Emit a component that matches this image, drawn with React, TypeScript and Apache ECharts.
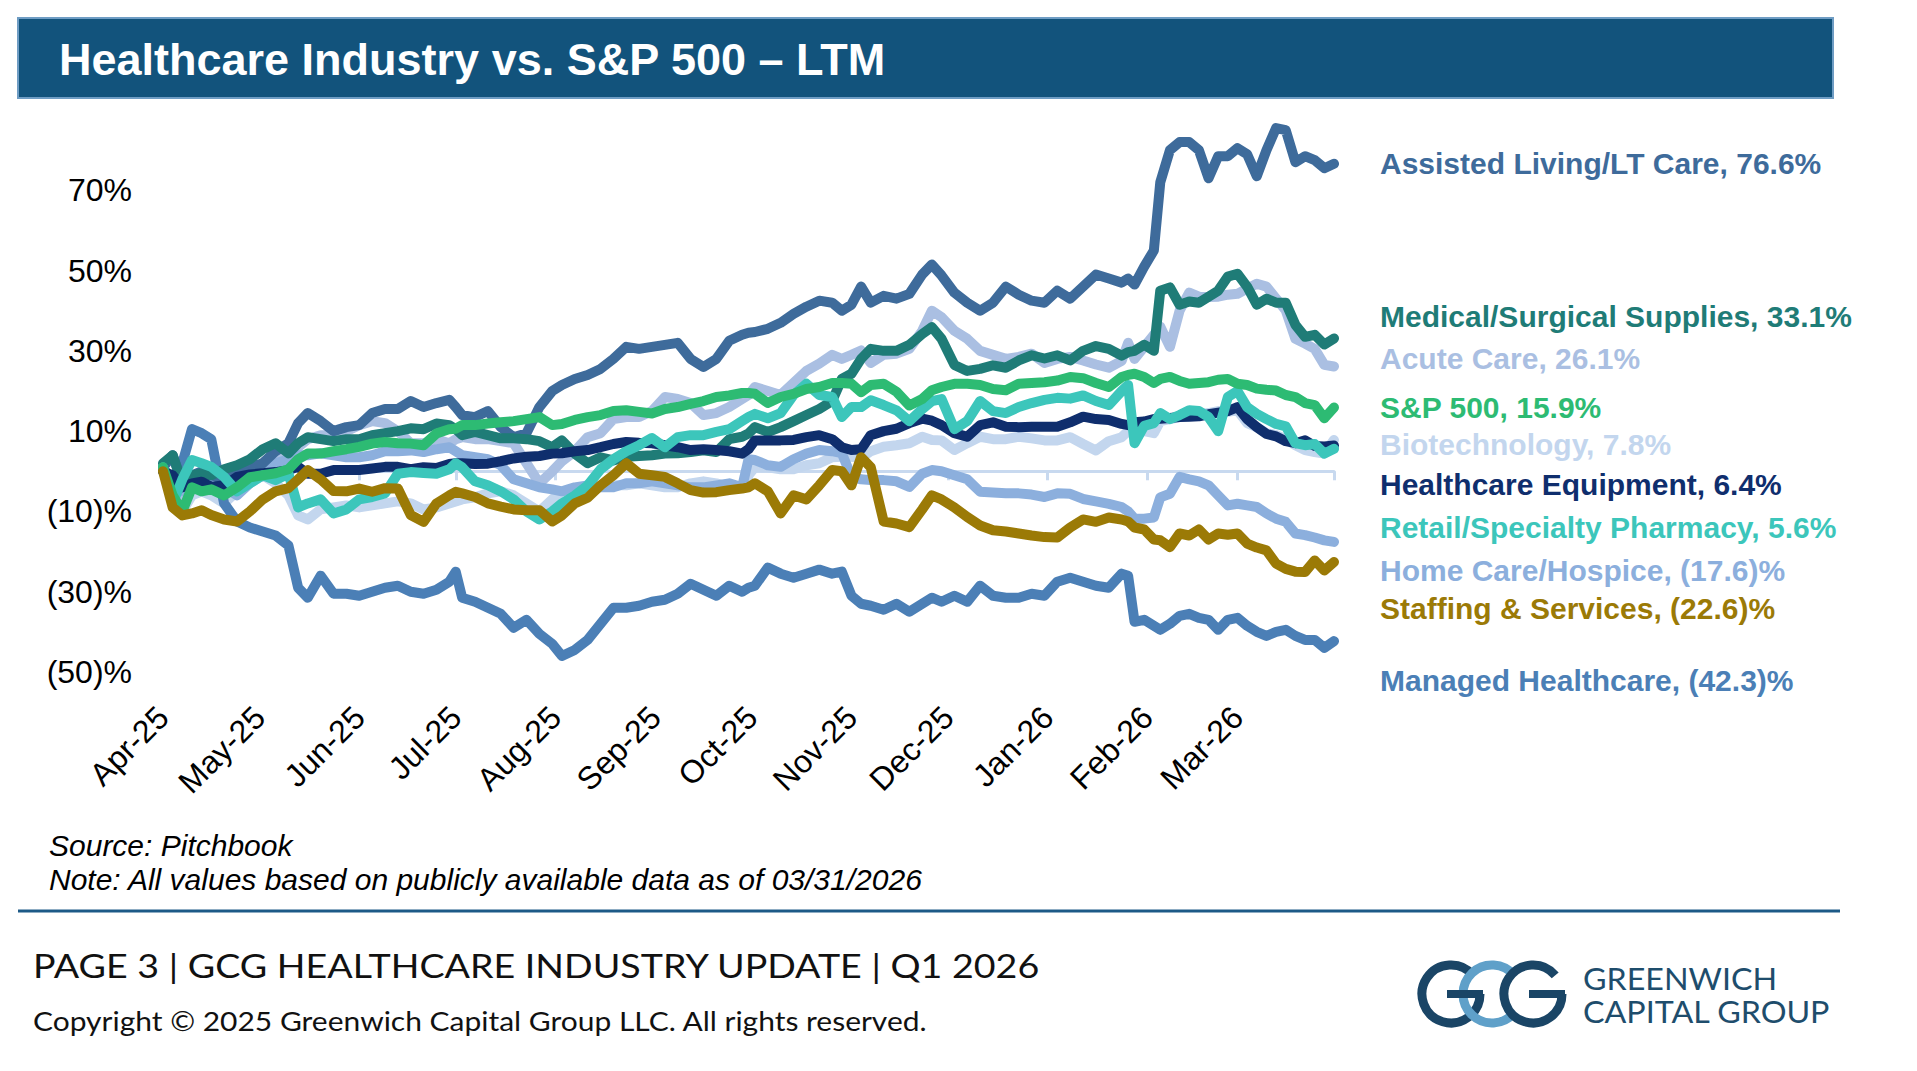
import React, { useEffect, useRef } from 'react';
import * as echarts from 'echarts';

// Trading-day samples, as day offsets from 1 Apr 2025 (LTM window ends 31 Mar 2026)
const sampleDays = [
  0, 3, 6, 9, 12, 15, 19, 23, 27, 31,
  35, 39, 42, 45, 49, 53, 57, 61, 65, 69,
  73, 77, 81, 85, 89, 91, 93, 97, 101, 105,
  109, 113, 117, 121, 124, 128, 132, 136, 140, 144,
  148, 152, 156, 160, 164, 168, 172, 176, 180, 182,
  184, 188, 192, 196, 200, 204, 208, 211, 214, 217,
  220, 224, 228, 232, 236, 239, 242, 246, 250, 254,
  258, 262, 266, 270, 274, 278, 282, 286, 290, 294,
  298, 300, 302, 305, 308, 310, 313, 316, 319, 322,
  325, 328, 331, 334, 337, 340, 343, 346, 349, 352,
  355, 358, 361, 364,
];

// Month starts (day offsets) and their tick labels
const monthTickDays = [0, 30, 61, 91, 122, 153, 183, 214, 244, 275, 306, 334];
const monthTickLabels = ['Apr-25', 'May-25', 'Jun-25', 'Jul-25', 'Aug-25', 'Sep-25', 'Oct-25', 'Nov-25', 'Dec-25', 'Jan-26', 'Feb-26', 'Mar-26'];
const lastDay = 364;

// Cumulative return (%) per index
const assistedLiving = [
  1, 4, -3, -1, 0, -1, -2, 0, 1, 2,
  5, 7, 12, 14.5, 12.5, 10, 11, 11.5, 14.5, 15.5,
  15.5, 17.5, 16, 17, 17.8, 16, 14, 13.5, 15, 11,
  8.5, 9.5, 16, 20, 21.5, 23, 24, 25.5, 28, 31,
  30.5, 31, 31.5, 32, 28, 26, 28, 32.5, 34, 34.5,
  34.7, 35.5, 37, 39.2, 41, 42.5, 42, 40, 41.5, 46,
  42, 43.7, 43, 44.2, 49, 51.5, 48.8, 44.5, 42, 40,
  42, 46, 44, 42.5, 42, 45, 43, 46, 49, 48,
  47, 48, 46.5, 51, 55, 72, 80, 82, 82, 80,
  73, 78.5, 78.5, 80.5, 79, 73.5, 80, 85.5, 85, 77,
  78.5, 77.5, 75.5, 76.6,
];
const medicalSupplies = [
  2, 4, -3, -1, -0.5, -1, 0.5, 1.5, 3, 5.5,
  7, 4.5, 7, 8.5, 8, 7.5, 8, 8, 9, 9.5,
  10, 10.7, 10.5, 11.9, 11.5, 10.5, 9, 9.8, 9, 8.2,
  8.2, 8, 7.5, 6, 7.7, 4.4, 2, 3.5, 2.7, 3.6,
  3.8, 4, 4.4, 4.5, 4.8, 5.2, 4.8, 8, 8.6, 9.4,
  11, 9.8, 11, 12.5, 14, 15.5, 17.5, 23, 24.3, 28,
  30.5, 30, 30, 31.5, 34.2, 35.9, 33, 26.5, 25, 25.5,
  26.4, 25.8, 27.6, 28.9, 28.1, 28.9, 27.6, 30, 31.2, 30.5,
  28.8, 29.7, 30, 31.5, 30, 45, 45.8, 41.5, 42.3, 42,
  43.5, 45, 48.5, 49.2, 46, 41.5, 43, 42, 42, 36.5,
  33.5, 34, 31.6, 33.1,
];
const acuteCare = [
  0, -2, -6, -3, -2, -4, -3, -1, 0, 2,
  3, 4, 6, 8, 9, 9, 10, 11.5, 12.5, 12,
  10, 7, 7, 8, 7, 8, 8.5, 8, 8, 7.5,
  7, 2, -3, 0, 2.5, 5, 8.5, 9.5, 13, 13.5,
  13.5, 15, 18.5, 18, 17, 14, 14.5, 16, 18, 19,
  21, 20, 19, 22, 25, 26.8, 29, 28, 29, 30.1,
  27, 29, 29.3, 30.5, 35, 40, 38.4, 35, 33, 30,
  29, 28, 28.5, 29.3, 27, 28, 28.5, 27.6, 26.6, 25.8,
  27.5, 32, 28, 31, 34, 36, 31, 40, 44.5, 43.5,
  43.4, 43.5, 44, 44.2, 45.5, 46.7, 46, 43, 40.1, 33,
  31.8, 30.5, 26.5, 26.1,
];
const sp500 = [
  1, -6, -10, -4, -5, -4.5, -6, -4, -1.5, -1,
  -0.5, 0.5, 3, 4.4, 4.4, 5, 5.5, 6.1, 6.9, 7.3,
  7, 6.9, 6.5, 9.4, 10.5, 10.6, 11.5, 11.5, 11.9, 12.2,
  12.5, 13, 13.5, 11.5, 11.8, 12.8, 13.5, 14, 15, 15.2,
  14.8, 14.4, 15.5, 16, 16.8, 17.5, 18.5, 18.9, 19.5, 19.5,
  19.3, 17, 18.5, 19.3, 20.5, 21, 22, 22, 21.8, 19.7,
  21.5, 21.8, 19.8, 16.4, 18, 20.2, 21, 21.8, 21.8, 21.5,
  20.5, 20.2, 21.8, 22, 22.2, 22.6, 23.5, 23.2, 22, 21,
  23.5, 24, 24.3, 23.5, 22, 23, 23.5, 22.5, 21.8, 22,
  22.2, 22.8, 23, 21.8, 21.5, 20.6, 20.3, 20.1, 19, 18.5,
  17, 16.5, 13.2, 15.9,
];
const biotechnology = [
  0, -5, -10, -6, -5, -6, -8, -5, -3, -1,
  -3, -6, -11, -12, -9.5, -9, -8.5, -9, -8.5, -8,
  -7.5, -8, -9.5, -9, -8, -7.5, -7, -6.5, -5.5, -5,
  -6, -8, -10, -7, -5, -4.5, -4, -3.5, -3.5, -3.5,
  -3, -3.5, -4, -4, -3, -2.5, -3, -4, -3.5, -1,
  1.1, 1, 0.5, 0.5, 1.5, 2, 3.5, 3.6, 3.6, 3.3,
  5, 6.1, 6.5, 7, 8.6, 7.8, 7.7, 5.3, 7, 8.6,
  8, 8, 8.6, 8.2, 7.7, 7.7, 8.5, 6.8, 5.2, 7.5,
  8.5, 10, 10.5, 10, 9.5, 12.5, 13, 13.5, 14, 14.2,
  14.5, 15, 14.8, 15.2, 12, 11, 9.5, 9, 8, 6.5,
  5.3, 4.8, 4.4, 7.8,
];
const healthcareEquipment = [
  0, -1, -4, -3, -2.6, -3.9, -3.5, -1.4, -0.8, -0.5,
  -0.2, 0.3, 1.1, -0.6, -0.6, 0.3, 0.3, 0.3, 0.7, 1.1,
  1.1, 0.5, 1, 0.8, 1.8, 2, 2, 1.8, 1.9, 2.5,
  3.2, 3.6, 3.8, 4.4, 4.5, 5, 5.3, 6, 6.8, 7.3,
  7.1, 7, 6.5, 6, 5.3, 5.5, 5.3, 5, 4.4, 5.5,
  7.7, 7.7, 7.7, 7.8, 8.5, 9, 8, 6, 5.3, 5.5,
  9, 10, 10.6, 12, 13.1, 12.6, 11.5, 9.5, 8.6, 11.5,
  12.2, 11.1, 11, 11.1, 11.1, 11.1, 12.2, 13.6, 13, 12.8,
  11.8, 11.5, 12.2, 12.4, 13, 13.1, 13.3, 13.5, 13.6, 13.7,
  14.2, 14.6, 15, 16, 13, 11, 9.3, 8.7, 7.5, 7,
  7.7, 6.3, 6.2, 6.4,
];
const retailPharmacy = [
  1, -8, -2, 2.8, 2, 1.1, -1.4, -5, -3, -1,
  -2.2, -0.6, -9, -8, -7, -10.5, -9.5, -7, -6.4, -5.5,
  -0.6, -0.2, -0.4, -0.6, 0.5, 2, 1, -2.5, -3.5, -5,
  -7, -10, -12, -10, -8, -6, -3.5, 0.5, 3, 5,
  6.5, 8.3, 6, 8.5, 9, 9, 9.8, 10.5, 12.5, 13.5,
  14.3, 13.2, 14.5, 19, 21.8, 19, 18.5, 13.5, 16, 16,
  17.7, 16.5, 15.2, 12.5, 15.5, 17.5, 18, 10.5, 12.5, 17.5,
  15, 14.5, 16, 17, 17.8, 18.3, 18.1, 18.9, 17.5, 16.5,
  20, 21.5, 7, 11.3, 12, 14.5, 13, 14, 15.2, 15,
  13.5, 10, 18.5, 20, 16, 14.3, 13, 11.8, 11.2, 7,
  6.5, 6.8, 4.4, 5.6,
];
const homeCare = [
  0, -2, -5, -2, -1, -3, -4, -6, -3, 0,
  2, 3, 4, 4, 4.5, 4, 3.5, 3.5, 4, 5,
  5, 5.2, 4.8, 5.5, 6, 5, 4, 3.5, 3, 1.5,
  -2, -3, -4, -4.5, -5, -4, -3.5, -4, -4, -3,
  -3, -2.5, -3, -3.5, -4, -4, -3.5, -3, -4, 3,
  2.8, 1.5, 1.1, 3, 4.4, 5.3, 5, 4.5, -1.4, -2,
  -2.2, -2.2, -2.5, -3.9, -0.6, 0.3, 0, -1, -2, -5.1,
  -5.3, -5.5, -5.5, -5.8, -6.4, -5.5, -5.6, -6.9, -7.5, -8.1,
  -8.9, -10, -11.8, -11.8, -11.5, -6.5, -5.6, -1.4, -2, -2.5,
  -3.5, -6, -8.5, -8.1, -8.5, -8.9, -10.5, -11.8, -12.6, -15.5,
  -15.9, -16.5, -17.2, -17.6,
];
const staffingServices = [
  0, -9, -11, -10.5, -9.7, -10.9, -12, -12.5, -10, -7,
  -5, -4.2, -2, 0.3, -2, -4.9, -5, -4.3, -5.1, -4.2,
  -4.3, -10.9, -12.6, -8, -6, -5.1, -5.5, -6.4, -8, -8.8,
  -9.5, -9.7, -9.7, -12.5, -11, -8, -6.6, -3.5, -1, 2,
  -0.6, -1, -1.4, -3, -4.7, -5.3, -5.2, -4.7, -4.3, -4,
  -3, -5, -10.5, -6, -7, -3.5, 0.3, 0, -3.5, 3.5,
  1, -12.5, -13, -13.9, -9.5, -6, -7, -9, -11.4, -13.5,
  -14.7, -15, -15.5, -16, -16.4, -16.5, -14, -12, -12.6, -11.5,
  -12, -12.5, -14, -14.5, -17, -17.2, -18.9, -15.5, -16, -14.5,
  -17, -15.5, -15.8, -15.5, -18, -19, -19.7, -23, -24.3, -25,
  -25.1, -22.2, -24.7, -22.6,
];
const managedHealthcare = [
  1, -3, 2, 10.5, 9.5, 8, -8, -12.5, -14, -15,
  -16, -18.5, -29, -31.5, -26, -30.5, -30.5, -31, -30, -29,
  -28.5, -30, -30.5, -29.5, -27.5, -25, -31.5, -32.5, -34, -35.5,
  -39, -37, -40.5, -43, -46, -44.5, -42, -38, -34, -34,
  -33.5, -32.5, -32, -30.5, -28, -29.5, -31, -28.5, -30, -29,
  -28.5, -24, -25.5, -26.5, -25.5, -24.5, -25.5, -25, -31, -33,
  -33.5, -34.5, -33, -35, -33, -31.5, -32.5, -31, -32.5, -28.5,
  -31, -31.5, -31.5, -30.5, -31, -27.5, -26.5, -27.5, -28.5, -29,
  -25.5, -26, -37.5, -37, -38.5, -39.5, -38, -36, -35.5, -36.5,
  -37, -39.5, -37, -36.5, -38.5, -40, -41, -40, -39.5, -41,
  -42, -42, -44, -42.3,
];

// Drawing order: first entry sits at the back
const seriesDefs = [
  { name: 'Biotechnology', values: biotechnology, color: '#c3d6ee' },
  { name: 'Acute Care', values: acuteCare, color: '#aabfe2' },
  { name: 'Home Care/Hospice', values: homeCare, color: '#8cafdd' },
  { name: 'Managed Healthcare', values: managedHealthcare, color: '#4b7fb6' },
  { name: 'Assisted Living/LT Care', values: assistedLiving, color: '#3e6b9b' },
  { name: 'Medical/Surgical Supplies', values: medicalSupplies, color: '#1f7c77' },
  { name: 'Healthcare Equipment', values: healthcareEquipment, color: '#0f2e6d' },
  { name: 'Retail/Specialty Pharmacy', values: retailPharmacy, color: '#3cc6bb' },
  { name: 'S&P 500', values: sp500, color: '#2dbb73' },
  { name: 'Staffing & Services', values: staffingServices, color: '#9b7a06' },
];

// Right-hand legend, top to bottom, with the text centre line for each entry
const legendLayout = [
  { name: 'Assisted Living/LT Care', y: 163 },
  { name: 'Medical/Surgical Supplies', y: 316 },
  { name: 'Acute Care', y: 358 },
  { name: 'S&P 500', y: 407 },
  { name: 'Biotechnology', y: 444 },
  { name: 'Healthcare Equipment', y: 484 },
  { name: 'Retail/Specialty Pharmacy', y: 527 },
  { name: 'Home Care/Hospice', y: 570 },
  { name: 'Staffing & Services', y: 608 },
  { name: 'Managed Healthcare', y: 680 },
];

const ARIAL = '"Liberation Sans", Arial, Helvetica, sans-serif';
const FOOTER_FONT = 'Lato, "Open Sans", sans-serif';
const LINE_WIDTH = 10;

const pct = (v: number, digits = 1) =>
  v < 0 ? `(${Math.abs(v).toFixed(digits)})%` : `${v.toFixed(digits)}%`;

function buildOption() {
  const series = seriesDefs.map((s) => ({
    name: s.name,
    type: 'line',
    xAxisIndex: 0,
    yAxisIndex: 0,
    data: sampleDays.map((d, i) => [d, s.values[i]]),
    showSymbol: false,
    smooth: false,
    lineStyle: { color: s.color, width: LINE_WIDTH, cap: 'round', join: 'round' },
    itemStyle: { color: s.color },
  }));

  const legendTexts = legendLayout.map((l) => {
    const def = seriesDefs.find((s) => s.name === l.name)!;
    const last = def.values[def.values.length - 1];
    return {
      type: 'text',
      style: {
        x: 1380,
        y: l.y,
        text: `${def.name}, ${pct(last)}`,
        fill: def.color,
        font: `bold 30px ${ARIAL}`,
        textAlign: 'left',
        textVerticalAlign: 'middle',
        align: 'left',
        verticalAlign: 'middle',
      },
      silent: true,
    };
  });

  // Left-anchored text; sx stretches it horizontally about its left edge
  const text = (x: number, y: number, t: string, font: string, fill = '#000', sx = 1) => ({
    type: 'text',
    silent: true,
    x,
    y,
    scaleX: sx,
    style: { x: 0, y: 0, text: t, font, fill, textAlign: 'left', textVerticalAlign: 'middle', align: 'left', verticalAlign: 'middle' },
  });

  // GCG monogram: two dark G rings interlocked with a light C ring
  const logoDark = '#1a4566';
  const logoLight = '#5fa0c9';
  const ringR = 29;
  const ringW = 9;
  const cy = 994;
  const rad = (deg: number) => (deg * Math.PI) / 180;
  const ring = (cx: number, from: number, to: number, color: string) => ({
    type: 'arc',
    silent: true,
    shape: { cx, cy, r: ringR, startAngle: rad(from), endAngle: rad(to), clockwise: true },
    style: { stroke: color, lineWidth: ringW, fill: null },
  });
  const bar = (x: number, w: number) => ({
    type: 'rect',
    silent: true,
    shape: { x, y: cy - 4, width: w, height: 8 },
    style: { fill: logoDark },
  });
  const logo = [
    ring(1451, 0, 320, logoDark),
    ring(1492, 40, 320, logoLight),
    bar(1447, 36),
    ring(1533, 0, 320, logoDark),
    bar(1529, 36),
    text(1583, 978, 'GREENWICH', `31px ${FOOTER_FONT}`, '#1e4d6c', 1.04),
    text(1583, 1011, 'CAPITAL GROUP', `31px ${FOOTER_FONT}`, '#1e4d6c', 1.04),
  ];

  const graphic = [
    { type: 'rect', silent: true, shape: { x: 18, y: 18, width: 1815, height: 80 }, style: { fill: '#12537c', stroke: '#6f9dc4', lineWidth: 2 } },
    text(59, 59, 'Healthcare Industry vs. S&P 500 – LTM', `bold 45px ${ARIAL}`, '#ffffff'),
    ...legendTexts,
    text(49, 845, 'Source: Pitchbook', `italic 30px ${ARIAL}`),
    text(49, 879, 'Note: All values based on publicly available data as of 03/31/2026', `italic 30px ${ARIAL}`),
    { type: 'line', silent: true, shape: { x1: 18, y1: 911, x2: 1840, y2: 911 }, style: { stroke: '#1d5a87', lineWidth: 3 } },
    text(33, 966, 'PAGE 3 | GCG HEALTHCARE INDUSTRY UPDATE | Q1 2026', `32px ${FOOTER_FONT}`, '#111111', 1.175),
    text(33, 1021, 'Copyright © 2025 Greenwich Capital Group LLC. All rights reserved.', `27px ${FOOTER_FONT}`, '#111111', 1.11),
    ...logo,
  ];

  return {
    animation: false,
    backgroundColor: '#ffffff',
    textStyle: { fontFamily: ARIAL },
    grid: { left: 163, top: 110, width: 1171, height: 562, containLabel: false },
    xAxis: [
      {
        type: 'value',
        min: 0,
        max: lastDay,
        position: 'bottom',
        axisLine: { show: false, onZero: false },
        axisTick: { show: false },
        splitLine: { show: false },
        axisLabel: {
          customValues: monthTickDays,
          formatter: (v: number) => {
            const i = monthTickDays.indexOf(Math.round(v));
            return i >= 0 ? monthTickLabels[i] : '';
          },
          rotate: 45,
          margin: 40,
          fontSize: 32,
          fontFamily: ARIAL,
          color: '#000000',
        },
      },
      {
        type: 'value',
        min: 0,
        max: lastDay,
        position: 'bottom',
        axisLine: { show: true, onZero: true, lineStyle: { color: '#c8d9ef', width: 3 } },
        axisTick: {
          show: true,
          inside: false,
          length: 9,
          customValues: [...monthTickDays.slice(1), lastDay],
          lineStyle: { color: '#c8d9ef', width: 3 },
        },
        axisLabel: { show: false },
        splitLine: { show: false },
      },
    ],
    yAxis: {
      type: 'value',
      min: -50,
      max: 90,
      interval: 10,
      axisLine: { show: false, onZero: false },
      axisTick: { show: false },
      splitLine: { show: false },
      axisLabel: {
        margin: 31,
        fontSize: 32,
        fontFamily: ARIAL,
        color: '#000000',
        formatter: (v: number) => ((v + 50) % 20 === 0 && v <= 70 ? pct(v, 0) : ''),
      },
    },
    series,
    graphic,
  };
}

export default function App() {
  const ref = useRef<HTMLDivElement>(null);
  useEffect(() => {
    if (!ref.current) return;
    const chart = echarts.init(ref.current, undefined, { renderer: 'svg' });
    chart.setOption(buildOption() as any);
    return () => chart.dispose();
  }, []);
  return (
    <div
      ref={ref}
      style={{ position: 'fixed', left: 0, top: 0, width: 1917, height: 1071, background: '#ffffff' }}
    />
  );
}
